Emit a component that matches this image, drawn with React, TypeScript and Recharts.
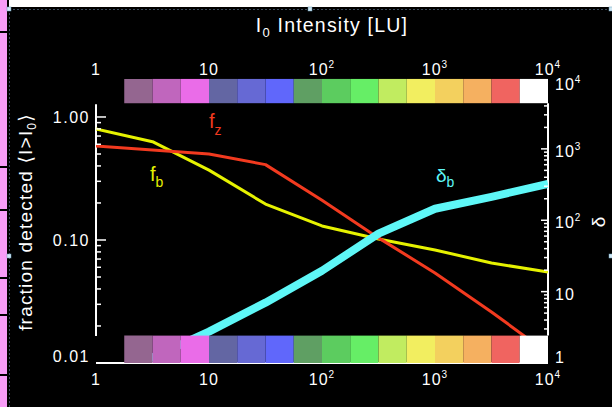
import React from 'react';
import { ComposedChart, Line, XAxis, YAxis, ReferenceArea, ReferenceLine } from 'recharts';

// I0 intensity sampled every half decade
const INTENSITY = [1, 3.162, 10, 31.62, 100, 316.2, 1000, 3162, 10000];
const F_B = [0.8, 0.63, 0.37, 0.196, 0.13, 0.102, 0.083, 0.065, 0.055];
const F_Z = [0.58, 0.54, 0.5, 0.41, 0.21, 0.104, 0.054, 0.026, 0.012];
const DELTA_B = [0.55, 1.2, 2.75, 7.0, 19.6, 65, 145, 213, 324];

// colour scale strip, quarter decades
const BAR_EDGES = [1.778, 3.162, 5.623, 10, 17.78, 31.62, 56.23, 100, 177.8, 316.2, 562.3, 1000, 1778, 3162, 5623, 10000];
const BAR_COLORS = [
  '#946690', '#c066bd', '#ea6ce8', '#6366a3', '#6669d4', '#6067fb', '#5f9f63', '#5ccc5f',
  '#66ee66', '#c1ec60', '#f2ee60', '#f3d05e', '#f5b060', '#f06460', '#ffffff',
];

const X_TICKS = [1, 10, 100, 1000, 10000];
const F_MAJOR = [0.01, 0.1, 1];
const F_MINOR = [0.02, 0.03, 0.04, 0.05, 0.06, 0.07, 0.08, 0.09, 0.2, 0.3, 0.4, 0.5, 0.6, 0.7, 0.8, 0.9];
const F_LABELS: Record<string, string> = { '0.01': '0.01', '0.1': '0.10', '1': '1.00' };
const D_MAJOR = [1, 10, 100, 1000, 10000];
const D_MINOR = [
  2, 3, 4, 5, 6, 7, 8, 9, 20, 30, 40, 50, 60, 70, 80, 90,
  200, 300, 400, 500, 600, 700, 800, 900, 2000, 3000, 4000, 5000, 6000, 7000, 8000, 9000,
];

const FONT = '"Liberation Sans", "DejaVu Sans", sans-serif';
const WHITE = '#ffffff';

const F_LINE_LOW = 0.0166;
const F_LINE_HIGH = 1.27;
const D_LINE_LOW = 2.42;
const D_LINE_HIGH = 4365;
const D_TOP_BAR_HIGH = 9550;

function powerLabel(v: number) {
  if (v === 1) return '1';
  if (v === 10) return '10';
  const exp = Math.round(Math.log10(v));
  return (
    <>
      10<tspan dy={-7} fontSize={10}>{exp}</tspan>
    </>
  );
}

function BottomTick({ x, y, payload }: any) {
  return (
    <text x={x} y={y + 22} textAnchor="middle" fill={WHITE} fontSize={16} letterSpacing={1} fontFamily={FONT}>
      {powerLabel(payload.value)}
    </text>
  );
}

function TopTick({ x, y, payload }: any) {
  return (
    <text x={x} y={y - 3} textAnchor="middle" fill={WHITE} fontSize={16} letterSpacing={1} fontFamily={FONT}>
      {powerLabel(payload.value)}
    </text>
  );
}

function FTick({ x, y, payload }: any) {
  const v = payload.value;
  const major = F_MAJOR.includes(v);
  const onLine = v > F_LINE_LOW && v < F_LINE_HIGH;
  const ly = Math.min(y, 356);
  return (
    <g>
      {onLine && <line x1={x} x2={x + (major ? 10 : 5)} y1={y} y2={y} stroke={WHITE} strokeWidth={1.5} />}
      {major && (
        <text x={x - 6} y={ly + 6} textAnchor="end" fill={WHITE} fontSize={16} letterSpacing={1.5} fontFamily={FONT}>
          {F_LABELS[String(v)]}
        </text>
      )}
    </g>
  );
}

function DTick({ x, y, payload }: any) {
  const v = payload.value;
  const major = D_MAJOR.includes(v);
  const onLine = v > D_LINE_LOW && v < D_LINE_HIGH;
  const ly = Math.max(84, Math.min(y + 2, 357));
  return (
    <g>
      {onLine && <line x1={x - (major ? 7 : 4)} x2={x} y1={y} y2={y} stroke={WHITE} strokeWidth={1.5} />}
      {major && (
        <text x={x + 7} y={ly + 6} textAnchor="start" fill={WHITE} fontSize={16} letterSpacing={1} fontFamily={FONT}>
          {powerLabel(v)}
        </text>
      )}
    </g>
  );
}

export default function App() {
  const data = INTENSITY.map((x, i) => ({ x, fb: F_B[i], fz: F_Z[i], db: DELTA_B[i] }));
  const segments = BAR_COLORS.map((color, i) => ({ x1: BAR_EDGES[i], x2: BAR_EDGES[i + 1], color }));

  return (
    <div style={{ position: 'fixed', left: 0, top: 0, width: 612, height: 407, background: '#000', overflow: 'hidden' }}>
      <ComposedChart width={612} height={407} data={data} margin={{ top: 47.5, right: 0, bottom: 0, left: 0 }}>
        <XAxis
          dataKey="x"
          type="number"
          scale="log"
          domain={[1, 10000]}
          ticks={X_TICKS}
          interval={0}
          height={44}
          tickSize={0}
          tickMargin={0}
          tickLine={false}
          axisLine={{ stroke: WHITE, strokeWidth: 2 }}
          tick={<BottomTick />}
          allowDataOverflow
        />
        <XAxis
          xAxisId="top"
          orientation="top"
          dataKey="x"
          type="number"
          scale="log"
          domain={[1, 10000]}
          ticks={X_TICKS}
          interval={0}
          height={30}
          tickSize={0}
          tickMargin={0}
          tickLine={false}
          axisLine={false}
          tick={<TopTick />}
          allowDataOverflow
        />
        <YAxis
          yAxisId="f"
          type="number"
          scale="log"
          domain={[0.01, 2.094]}
          ticks={[...F_MAJOR, ...F_MINOR]}
          interval={0}
          width={96}
          tickSize={0}
          tickMargin={0}
          tickLine={false}
          axisLine={false}
          tick={<FTick />}
          allowDataOverflow
        />
        <YAxis
          yAxisId="d"
          orientation="right"
          type="number"
          scale="log"
          domain={[1, 10000]}
          ticks={[...D_MAJOR, ...D_MINOR]}
          interval={0}
          width={64}
          tickSize={0}
          tickMargin={0}
          tickLine={false}
          axisLine={false}
          tick={<DTick />}
          allowDataOverflow
        />
        <ReferenceLine
          yAxisId="f"
          segment={[{ x: 1, y: F_LINE_LOW }, { x: 1, y: F_LINE_HIGH }]}
          stroke={WHITE}
          strokeWidth={2}
        />
        <ReferenceLine
          yAxisId="d"
          segment={[{ x: 10000, y: D_LINE_LOW }, { x: 10000, y: D_LINE_HIGH }]}
          stroke={WHITE}
          strokeWidth={2}
        />
        <Line yAxisId="f" dataKey="fb" type="linear" stroke="#e6f200" strokeWidth={3} dot={false} strokeLinejoin="round" isAnimationActive={false} />
        <Line yAxisId="f" dataKey="fz" type="linear" stroke="#f23a1f" strokeWidth={3} dot={false} strokeLinejoin="round" isAnimationActive={false} />
        <Line yAxisId="d" dataKey="db" type="linear" stroke="#5ef7f7" strokeWidth={8} dot={false} strokeLinejoin="round" isAnimationActive={false} />
        {segments.map((s) => (
          <ReferenceArea
            key={'b' + s.x1}
            yAxisId="d"
            x1={s.x1}
            x2={s.x2}
            y1={1}
            y2={D_LINE_LOW}
            fill={s.color}
            fillOpacity={1}
            stroke="none"
            zIndex={1000}
          />
        ))}
        {segments.map((s) => (
          <ReferenceArea
            key={'t' + s.x1}
            yAxisId="d"
            x1={s.x1}
            x2={s.x2}
            y1={D_LINE_HIGH}
            y2={D_TOP_BAR_HIGH}
            fill={s.color}
            fillOpacity={1}
            stroke="none"
            zIndex={1000}
          />
        ))}
      </ComposedChart>
      <svg width={612} height={407} style={{ position: 'absolute', left: 0, top: 0, pointerEvents: 'none' }}>
        {/* window chrome around the plot */}
        <rect x={0} y={0} width={7} height={407} fill="#f79cf7" />
        {[32, 167, 210, 278, 315, 375].map((y) => (
          <rect key={y} x={0} y={y - 1} width={7} height={2} fill="#000" />
        ))}
        <rect x={9} y={0} width={603} height={7} fill="#fff" />
        <line x1={9} x2={612} y1={9.5} y2={9.5} stroke="#3a4a5c" strokeDasharray="2 2" />
        <line x1={9.5} x2={9.5} y1={9} y2={407} stroke="#3a4a5c" strokeDasharray="2 2" />
        {[[9, 9], [310, 9], [611, 9], [9, 256], [611, 256]].map(([hx, hy]) => (
          <rect key={hx + '-' + hy} x={hx - 2} y={hy - 2} width={4} height={4} fill="#cfe8f5" stroke="#6a9ab8" strokeWidth={0.5} />
        ))}

        <text x={332} y={32} textAnchor="middle" fill={WHITE} fontSize={19.5} letterSpacing={1.2} fontFamily={FONT}>
          I<tspan dy={5} fontSize={13}>0</tspan>
          <tspan dy={-5}> Intensity [LU]</tspan>
        </text>
        <text
          transform="translate(32,222) rotate(-90)"
          textAnchor="middle"
          fill={WHITE}
          fontSize={19}
          letterSpacing={1.2}
          fontFamily={FONT}
        >
          fraction detected ⟨I&gt;I<tspan dy={4} fontSize={12}>0</tspan>
          <tspan dy={-4}>⟩</tspan>
        </text>
        <text transform="translate(605,222) rotate(-90)" textAnchor="middle" fill={WHITE} fontSize={19} fontFamily={FONT}>
          δ
        </text>

        <text x={209} y={128} fill="#f23a1f" fontSize={20} fontFamily={FONT}>
          f<tspan dy={7} fontSize={14}>z</tspan>
        </text>
        <text x={150} y={181} fill="#e6f200" fontSize={20} fontFamily={FONT}>
          f<tspan dy={6} fontSize={14}>b</tspan>
        </text>
        <text x={436} y={182} fill="#5ef7f7" fontSize={19} fontFamily={FONT}>
          δ<tspan dy={5} fontSize={14}>b</tspan>
        </text>
      </svg>
    </div>
  );
}
